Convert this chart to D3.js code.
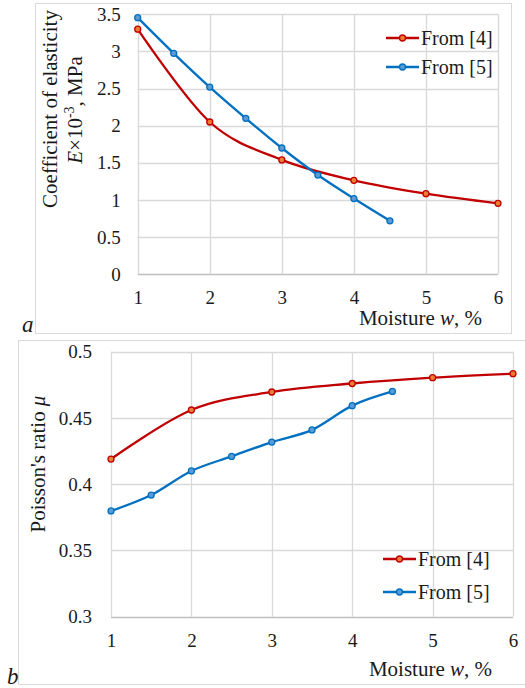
<!DOCTYPE html>
<html>
<head>
<meta charset="utf-8">
<script src="https://cdn.jsdelivr.net/npm/d3@7"></script>
<style>
  body { margin: 0; background: #fff; }
  svg { display: block; }
  svg text { font-family: "Liberation Serif", "Times New Roman", "DejaVu Serif", serif; }
</style>
</head>
<body>
<div id="chart"></div>
<script>
// data
const moisture4 = [1, 2, 3, 4, 5, 6];
const moisture5 = [1, 1.5, 2, 2.5, 3, 3.5, 4, 4.5];
const elastic4 = [3.30, 2.05, 1.54, 1.265, 1.085, 0.955];
const elastic5 = [3.455, 2.975, 2.52, 2.10, 1.70, 1.336, 1.02, 0.72];
const poisson4 = [0.419, 0.456, 0.4696, 0.476, 0.4804, 0.4834];
const poisson5 = [0.3798, 0.3918, 0.410, 0.421, 0.4318, 0.441, 0.4593, 0.470];
const moistureTicks = [1, 2, 3, 4, 5, 6];
const elasticTicks = [0, 0.5, 1, 1.5, 2, 2.5, 3, 3.5];
const poissonTicks = [0.3, 0.35, 0.4, 0.45, 0.5];
const seriesNames = ["From [4]", "From [5]"];

const w = 525, h = 688;
const red = "#c00000", redFill = "#ed7d31";
const blue = "#0070c0", blueFill = "#5b9bd5";
const grid = "#d9d9d9";
const ink = "#1a1a1a";
const serif = "Liberation Serif";

const svg = d3.select("#chart").append("svg").attr("width", w).attr("height", h)
    .attr("font-family", serif);

// panel frames
svg.append("rect").attr("x", 35.5).attr("y", 3.5).attr("width", 476).attr("height", 330)
    .attr("fill", "none").attr("stroke", grid);
svg.append("rect").attr("x", 18.5).attr("y", 340.5).attr("width", 520).attr("height", 344)
    .attr("fill", "none").attr("stroke", grid);

svg.append("text").attr("x", 22).attr("y", 332).attr("font-style", "italic")
    .attr("font-size", 23).attr("fill", ink).text("a");
svg.append("text").attr("x", 7).attr("y", 684).attr("font-style", "italic")
    .attr("font-size", 23).attr("fill", ink).text("b");

function panel(opt) {
    const g = svg.append("g");
    const x = d3.scaleLinear().domain([1, 6]).range([opt.left, opt.right]);
    const y = d3.scaleLinear().domain(opt.yDomain).range([opt.bottom, opt.top]);

    // gridlines
    g.append("g").selectAll("line").data(opt.yTicks).join("line")
        .attr("x1", opt.left).attr("x2", opt.right)
        .attr("y1", d => Math.round(y(d)) + 0.5).attr("y2", d => Math.round(y(d)) + 0.5)
        .attr("stroke", (d, i) => i == 0 ? "#bfbfbf" : grid).attr("stroke-width", 1.3);
    g.append("g").selectAll("line").data(moistureTicks).join("line")
        .attr("x1", d => Math.round(x(d)) + 0.5).attr("x2", d => Math.round(x(d)) + 0.5)
        .attr("y1", opt.top).attr("y2", opt.bottom)
        .attr("stroke", grid).attr("stroke-width", 1.3);

    // axes (labels only, Excel style)
    const xAxis = d3.axisBottom(x).tickValues(moistureTicks).tickSize(0).tickPadding(opt.xPad)
        .tickFormat(d3.format("~g"));
    const yAxis = d3.axisLeft(y).tickValues(opt.yTicks).tickSize(0).tickPadding(opt.yPad)
        .tickFormat(d3.format("~g"));
    g.append("g").attr("transform", "translate(0," + opt.bottom + ")").call(xAxis)
        .attr("font-family", serif).attr("font-size", 19)
        .call(a => a.select(".domain").remove())
        .selectAll("text").attr("fill", ink);
    g.append("g").attr("transform", "translate(" + opt.left + ",0)").call(yAxis)
        .attr("font-family", serif).attr("font-size", 19)
        .call(a => a.select(".domain").remove())
        .selectAll("text").attr("fill", ink);

    // x title
    const xt = g.append("text").attr("x", opt.xTitleX).attr("y", opt.xTitleY)
        .attr("text-anchor", "end").attr("font-size", 21).attr("fill", ink);
    xt.append("tspan").text("Moisture ");
    xt.append("tspan").attr("font-style", "italic").text("w");
    xt.append("tspan").text(", %");

    // series
    const line = d3.line().curve(d3.curveCatmullRom.alpha(0))
        .x(d => x(d[0])).y(d => y(d[1]));
    [[opt.s4, red, redFill], [opt.s5, blue, blueFill]].forEach(([pts, c, f]) => {
        g.append("path").datum(pts).attr("fill", "none").attr("stroke", c)
            .attr("stroke-width", 2.3).attr("d", line);
        g.append("g").selectAll("circle").data(pts).join("circle")
            .attr("cx", d => x(d[0])).attr("cy", d => y(d[1])).attr("r", 3)
            .attr("fill", f).attr("stroke", c).attr("stroke-width", 1.3);
    });

    // legend
    [[red, redFill], [blue, blueFill]].forEach(([c, f], i) => {
        const ly = opt.legendY[i];
        g.append("line").attr("x1", opt.legendX).attr("x2", opt.legendX + 33)
            .attr("y1", ly).attr("y2", ly).attr("stroke", c).attr("stroke-width", 2.3);
        g.append("circle").attr("cx", opt.legendX + 16.5).attr("cy", ly).attr("r", 3)
            .attr("fill", f).attr("stroke", c).attr("stroke-width", 1.3);
        g.append("text").attr("x", opt.legendX + 35).attr("y", ly).attr("dy", "0.33em")
            .attr("font-size", 20).attr("fill", ink).text(seriesNames[i]);
    });
    return g;
}

const ga = panel({
    left: 137.7, right: 498, top: 14.3, bottom: 274.3,
    yDomain: [0, 3.5], yTicks: elasticTicks, xPad: 16, yPad: 17,
    s4: d3.zip(moisture4, elastic4), s5: d3.zip(moisture5, elastic5),
    xTitleX: 482, xTitleY: 325, legendX: 386, legendY: [38, 67]
});
const ta = ga.append("g").attr("font-size", 21).attr("fill", ink);
ta.append("text").attr("transform", "translate(57,109) rotate(-90)")
    .attr("text-anchor", "middle").text("Coefficient of elasticity");
const t2 = ta.append("text").attr("transform", "translate(82,110) rotate(-90)")
    .attr("text-anchor", "middle");
t2.append("tspan").attr("font-style", "italic").text("E");
t2.append("tspan").text("\u00d710");
t2.append("tspan").attr("font-size", 14).attr("dy", -8).text("-3");
t2.append("tspan").attr("dy", 8).text(", MPa");

const gb = panel({
    left: 111, right: 513, top: 351.7, bottom: 616.7,
    yDomain: [0.3, 0.5], yTicks: poissonTicks, xPad: 17, yPad: 19,
    s4: d3.zip(moisture4, poisson4), s5: d3.zip(moisture5, poisson5),
    xTitleX: 492, xTitleY: 676, legendX: 383, legendY: [559, 592]
});
const tb = gb.append("text").attr("transform", "translate(45,464) rotate(-90)")
    .attr("text-anchor", "middle").attr("font-size", 21).attr("fill", ink);
tb.append("tspan").text("Poisson's ratio ");
tb.append("tspan").attr("font-style", "italic").text("\u03bc");
</script>
</body>
</html>
